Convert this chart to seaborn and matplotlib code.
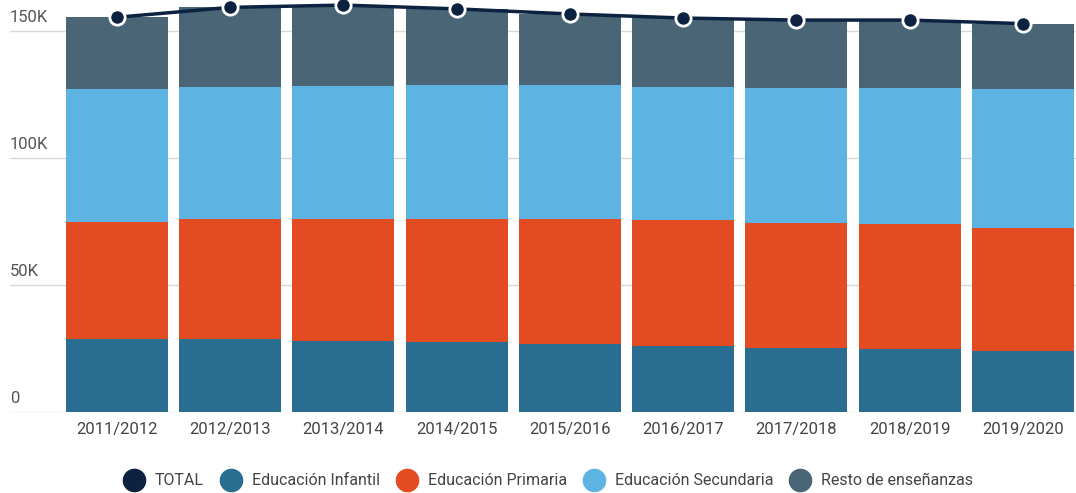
import numpy as np
import pandas as pd

import matplotlib
matplotlib.use('Agg')

import matplotlib.pyplot as plt
from matplotlib.lines import Line2D
import seaborn as sns
import warnings
warnings.filterwarnings('ignore')

# Data (students)
cursos = ["2011/2012", "2012/2013", "2013/2014", "2014/2015", "2015/2016",
          "2016/2017", "2017/2018", "2018/2019", "2019/2020"]
infantil = [28600, 28700, 28100, 27400, 26800, 26000, 25200, 24800, 24000]
primaria = [46200, 47300, 47900, 48600, 49200, 49600, 49200, 49200, 48400]
secundaria = [52200, 52000, 52300, 52700, 52700, 52400, 53200, 53600, 54600]
resto = [28400, 31300, 31900, 30000, 28000, 27100, 26700, 26700, 25900]
y_ticks = [0, 50000, 100000, 150000]
y_labels = ["0", "50K", "100K", "150K"]

series_names = ["Educación Infantil", "Educación Primaria", "Educación Secundaria", "Resto de enseñanzas"]
colors = ["#296e91", "#e34c22", "#5db4e3", "#4a6575"]
total_color = "#0d2240"

df = pd.DataFrame({"curso": cursos, "Educación Infantil": infantil,
                   "Educación Primaria": primaria, "Educación Secundaria": secundaria,
                   "Resto de enseñanzas": resto})
total = df[series_names].sum(axis=1)

sns.set_style("white")
plt.rcParams['font.family'] = ['Roboto', 'DejaVu Sans']

fig = plt.figure(figsize=(10.76, 4.93), dpi=100)
ax = fig.add_axes([10 / 1076, 81 / 493, 1066 / 1076, 412 / 493])

# Stacked bars: draw cumulative sums from top to bottom
cum = df[series_names].cumsum(axis=1)
for name, col in reversed(list(zip(series_names, colors))):
    sns.barplot(x=df["curso"], y=cum[name], color=col, width=0.9,
                saturation=1, edgecolor="none", linewidth=0, ax=ax, zorder=2)

# Total line
sns.lineplot(x=df["curso"], y=total, color=total_color, linewidth=2.5,
             marker="o", markersize=11, markeredgecolor="white",
             markeredgewidth=2, ax=ax, zorder=5, clip_on=False)

ax.set_xlim(-0.945, 8.47)
ax.set_ylim(0, 162200)
ax.set_xlabel("")
ax.set_ylabel("")

# Grid and y labels
for t, lab in zip(y_ticks, y_labels):
    ax.axhline(t, color="#d9d9d9", linewidth=1, zorder=1)
    ax.text(0.0, t + 2500, lab, transform=ax.get_yaxis_transform(),
            ha="left", va="bottom", fontsize=12, color="#555555")
ax.set_yticks([])
ax.tick_params(axis="x", length=0, pad=7, labelsize=12, labelcolor="#444444")
for s in ax.spines.values():
    s.set_visible(False)

# Legend
handles = [Line2D([], [], marker="o", linestyle="", markersize=16,
                  color=total_color)]
handles += [Line2D([], [], marker="o", linestyle="", markersize=16, color=c)
            for c in colors]
fig.legend(handles, ["TOTAL"] + series_names, loc="center",
           bbox_to_anchor=(0.507, 0.025), ncol=5, frameon=False,
           fontsize=11.5, handletextpad=0.3, columnspacing=0.7,
           labelcolor="#444444")

plt.savefig("out.png", dpi=100)
plt.close()
